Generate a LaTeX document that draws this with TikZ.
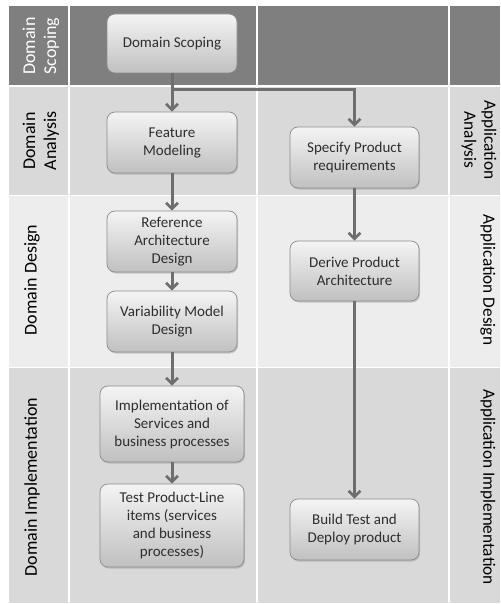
\documentclass[tikz,border=0pt]{standalone}
\usepackage{fontspec}
\setmainfont{Carlito}
\usetikzlibrary{arrows.meta,shadows,positioning}
\definecolor{darkrow}{HTML}{7F7F7F}
\definecolor{midrow}{HTML}{D9D9D9}
\definecolor{lightrow}{HTML}{EDEDED}
\definecolor{arrowgray}{HTML}{6E6E6E}
\definecolor{boxline}{HTML}{8C8C8C}
\definecolor{boxtop}{HTML}{F4F4F4}
\definecolor{boxbot}{HTML}{C0C0C0}
\definecolor{textgray}{HTML}{2E2E2E}
\tikzset{
  procbox/.style={draw=boxline, line width=0.7pt, rounded corners=8pt,
    top color=boxtop, bottom color=boxbot, align=center,
    text=textgray, font=\fontsize{15}{18}\selectfont, inner sep=0pt,
    drop shadow={shadow xshift=1pt, shadow yshift=-1.5pt, opacity=0.35}},
  flow/.style={draw=arrowgray, line width=3pt,
    -{Straight Barb[length=6pt,width=12pt,line width=2.6pt]}},
  leftlabel/.style={align=center, font=\fontsize{18}{21}\selectfont, text=black},
  rightlabel/.style={align=center, font=\fontsize{17.3}{20}\selectfont, text=black},
  sepline/.style={draw=white, line width=1.6pt}
}
\begin{document}
\begin{tikzpicture}[x=1pt,y=-1pt]
\useasboundingbox (0,0) rectangle (500,604);
\fill[white] (0,0) rectangle (500,604);
% rows
\fill[darkrow] (9,6) rectangle (500,86);
\fill[midrow] (9,86) rectangle (500,195);
\fill[lightrow] (9,195) rectangle (500,367);
\fill[midrow] (9,367) rectangle (500,603);
% separators
\draw[sepline] (9,86) -- (500,86);
\draw[sepline, line width=1pt] (9,195) -- (500,195);
\draw[sepline, line width=1pt] (9,367) -- (500,367);
\draw[sepline, line width=1.2pt] (69,6) -- (69,603);
\draw[sepline, line width=1.2pt] (257,6) -- (257,603);
\draw[sepline, line width=1.2pt] (449,6) -- (449,603);
% left lane labels
\node[leftlabel, text=white, rotate=90] (lScop) at (41,46) {Domain\\Scoping};
\node[leftlabel, rotate=90] (lAna) at (41,141) {Domain\\Analysis};
\node[leftlabel, rotate=90] (lDes) at (32,280) {Domain Design};
\node[leftlabel, rotate=90] (lImp) at (32,487) {Domain Implementation};
% right lane labels
\node[rightlabel, rotate=-90] (rAna) at (479,140) {Application\\Analysis};
\node[rightlabel, rotate=-90] (rDes) at (488,280) {Application Design};
\node[rightlabel, rotate=-90] (rImp) at (488,487) {Application Implementation};
% boxes
\node[procbox, minimum width=130pt, minimum height=59pt] (scop) at (172,43.5) {Domain Scoping};
\node[procbox, minimum width=130pt, minimum height=61pt] (feat) at (172,142.5) {Feature\\Modeling};
\node[procbox, minimum width=130pt, minimum height=61pt] (refa) at (172,241.5) {Reference\\Architecture\\Design};
\node[procbox, minimum width=130pt, minimum height=61pt] (vari) at (172,321.5) {Variability Model\\Design};
\node[procbox, minimum width=144pt, minimum height=76pt] (impl) at (172,424) {Implementation of\\Services and\\business processes};
\node[procbox, minimum width=144pt, minimum height=83pt] (test) at (172,525.5) {Test Product-Line\\items (services\\and business\\processes)};
\node[procbox, minimum width=129pt, minimum height=61pt] (spec) at (354.5,157.5) {Specify Product\\requirements};
\node[procbox, minimum width=129pt, minimum height=60pt] (deri) at (354.5,271) {Derive Product\\Architecture};
\node[procbox, minimum width=129pt, minimum height=61pt] (buil) at (354.5,529.5) {Build Test and\\Deploy product};
% connectors
\coordinate (split) at (172,90);
\draw[flow] (scop.south) -- (feat.north);
\draw[flow] (split) -- (split -| spec.north) -- (spec.north);
\draw[flow] (feat.south) -- (refa.north);
\draw[flow] (refa.south) -- (vari.north);
\draw[flow] (vari.south) -- (impl.north);
\draw[flow] (impl.south) -- (test.north);
\draw[flow] (spec.south) -- (deri.north);
\draw[flow] (deri.south) -- (buil.north);
\end{tikzpicture}
\end{document}
